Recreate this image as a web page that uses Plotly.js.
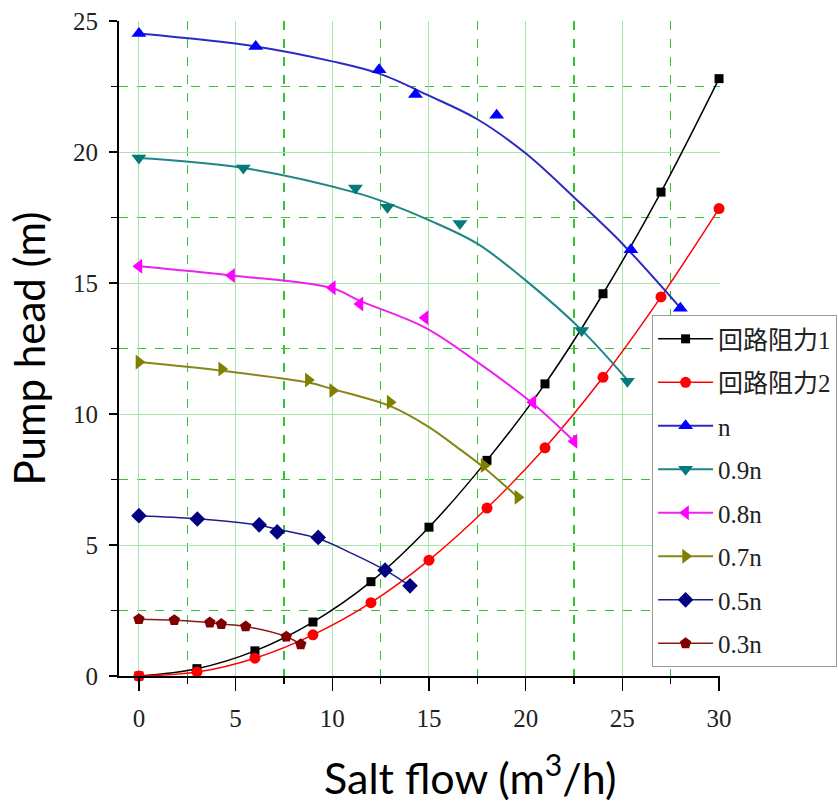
<!DOCTYPE html>
<html>
<head>
<meta charset="utf-8">
<script src="https://cdn.plot.ly/plotly-3.0.1.min.js"></script>
<style>
html,body{margin:0;padding:0;background:#fff;}
#chart .xtick text, #chart .ytick text { font-family: 'Liberation Serif', serif !important; }
#chart .legendtext { font-family: 'Liberation Serif', 'Noto Sans CJK SC', serif !important; }
#chart .ytitle, #chart .annotation-text { font-family: Lato, sans-serif !important; }
#chart .minor-gridlayer path { stroke: #33c233 !important; }
</style>
</head>
<body>
<div id="chart" style="width:838px;height:803px;"></div>
<script>
// Resistance curves (markers and line)
const flowR = [0, 3, 6, 9, 12, 15, 18, 21, 24, 27, 30];
const res1 = [0, 0.28, 0.96, 2.06, 3.6, 5.68, 8.23, 11.15, 14.59, 18.47, 22.8];
const res2 = [0, 0.15, 0.68, 1.57, 2.8, 4.42, 6.41, 8.71, 11.4, 14.47, 17.84];

// Pump curves: marker points
const xN  = [0, 6.04, 12.42, 14.3, 18.5, 25.44, 28.0];
const yN  = [24.52, 24.03, 23.14, 22.19, 21.4, 16.27, 14.04];
const x09 = [0, 5.4, 11.2, 12.85, 16.6, 22.9, 25.26];
const y09 = [19.77, 19.39, 18.63, 17.89, 17.27, 13.19, 11.25];
const x08 = [0, 4.79, 10.0, 11.43, 14.8, 20.37, 22.5];
const y08 = [15.64, 15.29, 14.82, 14.2, 13.67, 10.45, 8.96];
const x07 = [0, 4.28, 8.76, 10.02, 12.99, 17.85, 19.6];
const y07 = [11.98, 11.72, 11.3, 10.9, 10.45, 8.03, 6.82];
const x05 = [0, 3.02, 6.22, 7.15, 9.27, 12.73, 14.02];
const y05 = [6.12, 5.99, 5.77, 5.5, 5.29, 4.04, 3.44];
const x03 = [0, 1.83, 3.67, 4.26, 5.52, 7.62, 8.37];
const y03 = [2.17, 2.13, 2.04, 1.98, 1.89, 1.5, 1.21];

// Pump curves: fitted line path
const cxN  = [0, 6.04, 10, 12.47, 15, 17.5, 20, 22.5, 25, 28.0];
const cyN  = [24.52, 24.03, 23.46, 22.98, 22.15, 21.25, 19.95, 18.27, 16.5, 14.05];
const cx09 = [0, 5.4, 11.2, 12.85, 15, 17.5, 20, 22.9, 25.26];
const cy09 = [19.77, 19.39, 18.45, 18.05, 17.4, 16.5, 15.1, 13.2, 11.3];
const cx08 = [0, 4.79, 10, 11.43, 14.8, 17.56, 20.37, 22.5];
const cy08 = [15.64, 15.29, 14.8, 14.32, 13.3, 11.95, 10.4, 8.96];
const cx07 = [0, 4.28, 8.76, 10.02, 13, 15, 16.6, 17.85, 19.6];
const cy07 = [11.98, 11.65, 11.2, 10.95, 10.3, 9.5, 8.65, 7.95, 6.82];
const cx05 = [0, 3.02, 6.22, 7.15, 9.27, 11.09, 12.73, 14.02];
const cy05 = [6.12, 6.0, 5.75, 5.6, 5.25, 4.65, 4.04, 3.44];

const names = ['回路阻力1', '回路阻力2', 'n', '0.9n', '0.8n', '0.7n', '0.5n', '0.3n'];

function full(x, y, name, color, symbol, size, lw) {
  return [{
    type: 'scatter', mode: 'lines+markers', x: x, y: y, name: name,
    legendgroup: name, cliponaxis: false,
    line: {color: color, width: lw, shape: 'spline', smoothing: 1},
    marker: {color: color, symbol: symbol, size: size}
  }];
}
function pump(mx, my, cx, cy, name, lcolor, mcolor, symbol, size, lw) {
  const out = [];
  if (cx) {
    out.push({type: 'scatter', mode: 'lines', x: cx, y: cy, showlegend: false, legendgroup: name,
      hoverinfo: 'skip', cliponaxis: false,
      line: {color: lcolor, width: lw, shape: 'spline', smoothing: 1}});
    out.push({type: 'scatter', mode: 'markers', x: mx, y: my, showlegend: false, legendgroup: name,
      cliponaxis: false, marker: {color: mcolor, symbol: symbol, size: size}});
    out.push({type: 'scatter', mode: 'lines+markers', x: [null], y: [null], name: name, legendgroup: name,
      line: {color: lcolor, width: lw}, marker: {color: mcolor, symbol: symbol, size: size}});
  } else {
    out.push({type: 'scatter', mode: 'lines+markers', x: mx, y: my, name: name, legendgroup: name,
      cliponaxis: false,
      line: {color: lcolor, width: lw, shape: 'spline', smoothing: 1},
      marker: {color: mcolor, symbol: symbol, size: size}});
  }
  return out;
}

const data = [].concat(
  full(flowR, res1, names[0], '#000000', 'square', 9, 1.5),
  full(flowR, res2, names[1], '#ff0000', 'circle', 11, 1.5),
  pump(xN, yN, cxN, cyN, names[2], '#2b2bc4', '#0000ff', 'triangle-up', 13, 2),
  pump(x09, y09, cx09, cy09, names[3], '#1f8585', '#057a7a', 'triangle-down', 13, 2),
  pump(x08, y08, cx08, cy08, names[4], '#ee22ee', '#ff00ff', 'triangle-left', 13, 2),
  pump(x07, y07, cx07, cy07, names[5], '#86861a', '#808000', 'triangle-right', 13, 2),
  pump(x05, y05, cx05, cy05, names[6], '#1c1c8c', '#000080', 'diamond', 12, 1.5),
  pump(x03, y03, null, null, names[7], '#8a1a1a', '#800000', 'pentagon', 12, 1.5)
);

function axisStyle(ticklen) {
  return {
    tickmode: 'linear', tick0: 0, dtick: 5,
    ticks: 'outside', ticklen: ticklen, tickwidth: 1.5, tickcolor: '#000',
    ticklabelstandoff: 6,
    showline: true, linecolor: '#000', linewidth: 2,
    showgrid: true, gridcolor: '#a8e6a8', gridwidth: 1,
    zeroline: false,
    tickfont: {family: 'Liberation Serif', size: 25, color: '#222'},
    minor: {tick0: 0, dtick: 2.5, ticks: 'outside', ticklen: 6, tickcolor: '#000', tickwidth: 1.5,
            showgrid: true, gridcolor: '#33c233', griddash: 'dash', gridwidth: 1.5}
  };
}

const xaxis = Object.assign(axisStyle(13), {range: [-1.03, 30.05], title: {text: ''}});
const yaxis = Object.assign(axisStyle(8), {
  range: [0, 25],
  title: {text: 'Pump head (m)', font: {family: 'Lato', size: 42, color: '#000'}, standoff: 14}
});

const layout = {
  width: 838, height: 803,
  font: {family: 'Liberation Serif'},
  margin: {l: 119, r: 118, t: 21, b: 127, autoexpand: false},
  paper_bgcolor: '#ffffff', plot_bgcolor: '#ffffff',
  showlegend: true,
  legend: {
    x: 0.887, y: 0.551, xanchor: 'left', yanchor: 'top',
    bgcolor: '#ffffff', bordercolor: '#999999', borderwidth: 1,
    font: {family: 'Liberation Serif', size: 25, color: '#222'},
    itemwidth: 55, tracegroupgap: 8
  },
  xaxis: xaxis,
  yaxis: yaxis,
  annotations: [{
    text: 'Salt flow (m<sup>3</sup>/h)', xref: 'paper', yref: 'paper',
    x: 0.584, y: -0.151, xanchor: 'center', yanchor: 'middle', showarrow: false,
    font: {family: 'Lato', size: 43, color: '#000'}
  }]
};

Plotly.newPlot('chart', data, layout, {displayModeBar: false, staticPlot: true});
</script>
</body>
</html>
